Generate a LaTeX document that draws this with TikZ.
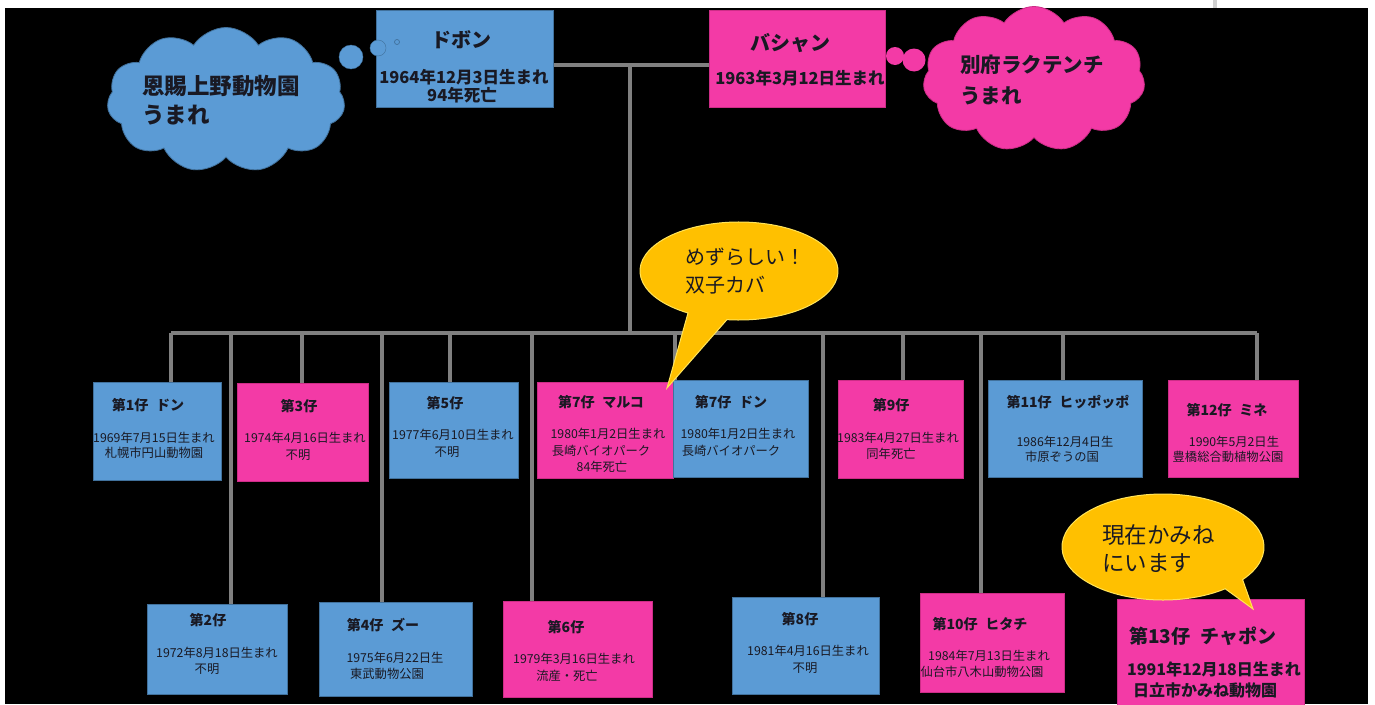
\documentclass[tikz,border=0pt]{standalone}
\usepackage{fontspec}
\setmainfont{Noto Sans CJK JP}
\usetikzlibrary{shapes.symbols,calc}
\definecolor{boxblue}{RGB}{91,155,213}
\definecolor{boxblueline}{RGB}{65,113,156}
\definecolor{boxpink}{RGB}{243,58,166}
\definecolor{boxpinkline}{RGB}{205,45,135}
\definecolor{gold}{RGB}{255,192,0}
\definecolor{goldline}{RGB}{255,228,90}
\definecolor{conngray}{RGB}{128,128,128}
\definecolor{txt}{RGB}{25,25,35}
\definecolor{markgray}{RGB}{208,208,208}
\newcommand{\gap}{\hspace{0.55em}}
\begin{document}
\begin{tikzpicture}[x=1pt,y=-1pt,
  bluebox/.style={rectangle, fill=boxblue, draw=boxblueline, line width=0.8pt, inner sep=0pt},
  pinkbox/.style={rectangle, fill=boxpink, draw=boxpinkline, line width=0.8pt, inner sep=0pt},
  conn/.style={draw=conngray, line width=3.6pt},
  ttl/.style={text=txt, font=\fontsize{14}{15}\selectfont\bfseries, inner sep=0pt},
  det/.style={text=txt, font=\fontsize{12.3}{14}\selectfont, inner sep=0pt},
  big/.style={text=txt, font=\fontsize{20}{22}\selectfont\bfseries, inner sep=0pt},
  bigdet/.style={text=txt, font=\fontsize{16.5}{18}\selectfont\bfseries, inner sep=0pt},
  say/.style={text=txt, font=\fontsize{#1}{#1}\selectfont, inner sep=0pt, anchor=west},
  think/.style={text=txt, font=\fontsize{#1}{#1}\selectfont\bfseries, inner sep=0pt, anchor=west},
  puff/.style={circle, inner sep=0pt},
  bubble/.style={fill=gold, draw=goldline, line width=1pt}
]
\useasboundingbox (0,0) rectangle (1375,704);
% page: white margins, black field
\fill[white] (0,0) rectangle (1375,704);
\fill[black] (5,8) rectangle (1368,704);
\fill[markgray] (1213,0) rectangle (1217,8);

% named positions of the connectors
\coordinate (J) at (630,65);
\coordinate (S) at (630,333);
\coordinate (d1) at (171,333);
\coordinate (d2) at (231,333);
\coordinate (d3) at (302,333);
\coordinate (d4) at (382,333);
\coordinate (d5) at (450,333);
\coordinate (d6) at (532,333);
\coordinate (d7) at (675,333);
\coordinate (d8) at (823,333);
\coordinate (d9) at (903,333);
\coordinate (d10) at (981,333);
\coordinate (d11) at (1063,333);
\coordinate (d12) at (1257,333);

% boxes (geometry only)
\node[bluebox, minimum width=177, minimum height=97] (dobon) at (464.5,58.5) {};
\node[pinkbox, minimum width=176, minimum height=97] (bashan) at (797,58.5) {};
\node[bluebox, minimum width=128, minimum height=98] (c1) at (157,431) {};
\node[pinkbox, minimum width=131, minimum height=98] (c3) at (302.5,432) {};
\node[bluebox, minimum width=129, minimum height=96] (c5) at (453.5,430) {};
\node[pinkbox, minimum width=136, minimum height=96] (c7a) at (605,430) {};
\node[bluebox, minimum width=135, minimum height=97] (c7b) at (740.5,428.5) {};
\node[pinkbox, minimum width=125, minimum height=98] (c9) at (900.5,429) {};
\node[bluebox, minimum width=154, minimum height=97] (c11) at (1065,428.5) {};
\node[pinkbox, minimum width=130, minimum height=97] (c12) at (1233,428.5) {};
\node[bluebox, minimum width=140, minimum height=90] (c2) at (217,649) {};
\node[bluebox, minimum width=153, minimum height=94] (c4) at (395.5,649) {};
\node[pinkbox, minimum width=149, minimum height=96] (c6) at (577.5,649) {};
\node[bluebox, minimum width=147, minimum height=97] (c8) at (805.5,645.5) {};
\node[pinkbox, minimum width=144, minimum height=99] (c10) at (992,642.5) {};
\node[pinkbox, minimum width=187, minimum height=111] (c13) at (1210.5,654.5) {};

% connectors
\draw[conn] (dobon.east |- J) -- (bashan.west |- J);
\draw[conn] (J) -- (S);
\draw[conn] (d1) -- (d12);
\draw[conn] (d1) -- (d1 |- c1.north);
\draw[conn] (d2) -- (d2 |- c2.north);
\draw[conn] (d3) -- (d3 |- c3.north);
\draw[conn] (d4) -- (d4 |- c4.north);
\draw[conn] (d5) -- (d5 |- c5.north);
\draw[conn] (d6) -- (d6 |- c6.north);
\draw[conn] (d7) -- (d7 |- c7b.north);
\draw[conn] (d8) -- (d8 |- c8.north);
\draw[conn] (d9) -- (d9 |- c9.north);
\draw[conn] (d10) -- (d10 |- c10.north);
\draw[conn] (d11) -- (d11 |- c11.north);
\draw[conn] (d12) -- (d12 |- c12.north);

% boxes again on top of the connector ends
\node[bluebox, minimum width=177, minimum height=97] at (dobon) {};
\node[pinkbox, minimum width=176, minimum height=97] at (bashan) {};
\node[bluebox, minimum width=128, minimum height=98] at (c1) {};
\node[pinkbox, minimum width=131, minimum height=98] at (c3) {};
\node[bluebox, minimum width=129, minimum height=96] at (c5) {};
\node[pinkbox, minimum width=136, minimum height=96] at (c7a) {};
\node[bluebox, minimum width=135, minimum height=97] at (c7b) {};
\node[pinkbox, minimum width=125, minimum height=98] at (c9) {};
\node[bluebox, minimum width=154, minimum height=97] at (c11) {};
\node[pinkbox, minimum width=130, minimum height=97] at (c12) {};
\node[bluebox, minimum width=140, minimum height=90] at (c2) {};
\node[bluebox, minimum width=153, minimum height=94] at (c4) {};
\node[pinkbox, minimum width=149, minimum height=96] at (c6) {};
\node[bluebox, minimum width=147, minimum height=97] at (c8) {};
\node[pinkbox, minimum width=144, minimum height=99] at (c10) {};
\node[pinkbox, minimum width=187, minimum height=111] at (c13) {};

% clouds
\node[cloud, cloud puffs=11, cloud puff arc=115, fill=boxblue, draw=boxblueline, line width=0.8pt,
      minimum width=238, minimum height=145] (cloudL) at (226,100) {};
\node[puff, fill=boxblue, draw=boxblueline, minimum size=24] (pl1) at (351,57) {};
\node[puff, fill=boxblue, draw=boxblueline, minimum size=16] (pl2) at (378,48) {};
\node[puff, draw=boxblueline, line width=0.7pt, minimum size=5] (pl3) at (397,42) {};
\node[cloud, cloud puffs=11, cloud puff arc=115, fill=boxpink, draw=boxpinkline, line width=0.8pt,
      minimum width=222, minimum height=145] (cloudR) at (1034,79) {};
\node[puff, fill=boxpink, minimum size=18] (pr1) at (895,56) {};
\node[puff, fill=boxpink, minimum size=23] (pr2) at (914,60) {};

% speech bubbles
\coordinate (b1c) at (739,271);
\coordinate (b1tip) at (667,388);
\filldraw[bubble] ($(b1c)+(97:99 and 49)$) -- (b1tip) -- ($(b1c)+(121:99 and 49)$)
   arc[start angle=121, end angle=457, x radius=99, y radius=49] -- cycle;
\coordinate (b2c) at (1163,547);
\coordinate (b2tip) at (1253,609);
\filldraw[bubble] ($(b2c)+(52:101 and 53)$) -- (b2tip) -- ($(b2c)+(38:101 and 53)$)
   arc[start angle=38, end angle=-308, x radius=101, y radius=53] -- cycle;

% texts
\node[think=22.5] (tL1) at (142,86) {恩賜上野動物園};
\node[think=22.5] (tL2) at (142,115) {うまれ};
\node[think=20.5] (tR1) at (960,65) {別府ラクテンチ};
\node[think=20.5] (tR2) at (960,96) {うまれ};
\node[say=20] (tb1a) at (685,257) {めずらしい！};
\node[say=20] (tb1b) at (685,285) {双子カバ};
\node[say=22.5] (tb2a) at (1102,535) {現在かみね};
\node[say=22.5] (tb2b) at (1102,563) {にいます};

\node[big] at (461,40) {ドボン};
\node[bigdet] at (464,77) {1964年12月3日生まれ};
\node[bigdet] at (462,95) {94年死亡};
\node[big] at (790,43) {バシャン};
\node[bigdet] at (800,78) {1963年3月12日生まれ};

\node[ttl] at (148,405) {第1仔\gap ドン};
\node[det] at (154,438) {1969年7月15日生まれ};
\node[det] at (154,453) {札幌市円山動物園};
\node[ttl] at (299,406) {第3仔};
\node[det] at (305,438) {1974年4月16日生まれ};
\node[det] at (298,455) {不明};
\node[ttl] at (445,403) {第5仔};
\node[det] at (453,435) {1977年6月10日生まれ};
\node[det] at (447,452) {不明};
\node[ttl] at (601,402) {第7仔\gap マルコ};
\node[det] at (608,434) {1980年1月2日生まれ};
\node[det] at (601,451) {長崎バイオパーク};
\node[det] at (602,467) {84年死亡};
\node[ttl] at (731,402) {第7仔\gap ドン};
\node[det] at (738,434) {1980年1月2日生まれ};
\node[det] at (731,451) {長崎バイオパーク};
\node[ttl] at (891,405) {第9仔};
\node[det] at (898,438) {1983年4月27日生まれ};
\node[det] at (891,454) {同年死亡};
\node[ttl] at (1068,402) {第11仔\gap ヒッポッポ};
\node[det] at (1065,442) {1986年12月4日生};
\node[det] at (1062,457) {市原ぞうの国};
\node[ttl] at (1227,410) {第12仔\gap ミネ};
\node[det] at (1234,442) {1990年5月2日生};
\node[det] at (1228,457) {豊橋総合動植物公園};
\node[ttl] at (208,620) {第2仔};
\node[det] at (217,653) {1972年8月18日生まれ};
\node[det] at (207,669) {不明};
\node[ttl] at (383,625) {第4仔\gap ズー};
\node[det] at (395,658) {1975年6月22日生};
\node[det] at (387,674) {東武動物公園};
\node[ttl] at (566,627) {第6仔};
\node[det] at (574,659) {1979年3月16日生まれ};
\node[det] at (567,676) {流産・死亡};
\node[ttl] at (800,619) {第8仔};
\node[det] at (808,651) {1981年4月16日生まれ};
\node[det] at (805,668) {不明};
\node[ttl] at (980,624) {第10仔\gap ヒタチ};
\node[det] at (989,656) {1984年7月13日生まれ};
\node[det] at (982,672) {仙台市八木山動物公園};
\node[big, font=\fontsize{19}{20}\selectfont\bfseries] at (1203,636) {第13仔\gap チャポン};
\node[bigdet, font=\fontsize{16}{18}\selectfont\bfseries] at (1214,669) {1991年12月18日生まれ};
\node[bigdet, font=\fontsize{16}{18}\selectfont\bfseries] at (1205,690) {日立市かみね動物園};
\end{tikzpicture}
\end{document}
